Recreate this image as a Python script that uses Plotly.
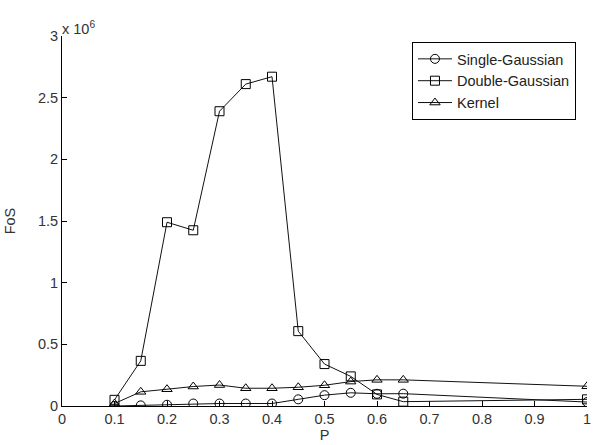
import plotly.graph_objects as go

# Probability P and figure of sensitivity (FoS, in units of 10^6)
p_values = [0.1, 0.15, 0.2, 0.25, 0.3, 0.35, 0.4, 0.45, 0.5, 0.55, 0.6, 0.65, 1.0]
single_gaussian = [0.0, 0.005, 0.01, 0.02, 0.02, 0.02, 0.02, 0.054, 0.088, 0.107, 0.099, 0.10, 0.032]
double_gaussian = [0.05, 0.366, 1.49, 1.425, 2.39, 2.61, 2.67, 0.607, 0.34, 0.24, 0.094, 0.035, 0.054]
kernel = [0.02, 0.115, 0.136, 0.158, 0.17, 0.144, 0.144, 0.152, 0.168, 0.198, 0.212, 0.212, 0.16]

x_ticks = [0, 0.1, 0.2, 0.3, 0.4, 0.5, 0.6, 0.7, 0.8, 0.9, 1]
x_tick_text = ["0", "0.1", "0.2", "0.3", "0.4", "0.5", "0.6", "0.7", "0.8", "0.9", "1"]
y_ticks = [0, 0.5, 1, 1.5, 2, 2.5, 3]
y_tick_text = ["0", "0.5", "1", "1.5", "2", "2.5", "3"]

FONT = "Liberation Sans, Arial, sans-serif"
TEXT = "#333333"

series = [
    ("Single-Gaussian", single_gaussian, "circle-open"),
    ("Double-Gaussian", double_gaussian, "square-open"),
    ("Kernel", kernel, "triangle-up-open"),
]

fig = go.Figure()
for name, values, symbol in series:
    fig.add_trace(go.Scatter(
        x=p_values, y=values, name=name, mode="lines+markers",
        line=dict(color="#111111", width=1),
        marker=dict(symbol=symbol, size=9, color="black", line=dict(width=1, color="black")),
    ))

fig.update_layout(
    width=596, height=445,
    margin=dict(l=62, r=5, t=36, b=35),
    paper_bgcolor="white", plot_bgcolor="white",
    font=dict(family=FONT, size=14.5, color="black"),
    showlegend=True,
    legend=dict(
        x=0.979, y=0.984, xanchor="right", yanchor="top",
        bordercolor="black", borderwidth=1, bgcolor="white",
        font=dict(family=FONT, size=14.5, color="#222222"),
        tracegroupgap=0, itemwidth=34,
    ),
    xaxis=dict(
        range=[0, 1], tickvals=x_ticks, ticktext=x_tick_text,
        ticks="inside", ticklen=5, tickcolor="black",
        showline=True, linecolor="black", linewidth=1, mirror=False,
        showgrid=False, zeroline=False,
        tickfont=dict(family=FONT, size=14.5, color=TEXT),
        title=dict(text="P", standoff=2, font=dict(family=FONT, size=14.5, color=TEXT)),
    ),
    yaxis=dict(
        range=[0, 3], tickvals=y_ticks, ticktext=y_tick_text,
        ticks="inside", ticklen=5, tickcolor="black",
        showline=True, linecolor="black", linewidth=1, mirror=False,
        showgrid=False, zeroline=False,
        tickfont=dict(family=FONT, size=14.5, color=TEXT),
        title=dict(text="FoS", standoff=18, font=dict(family=FONT, size=14.5, color=TEXT)),
    ),
    annotations=[dict(
        text="x 10<sup>6</sup>", xref="paper", yref="paper", x=0.0, y=1.0,
        xanchor="left", yanchor="bottom", showarrow=False, xshift=-2, yshift=-3,
        font=dict(family=FONT, size=14.5, color=TEXT),
    )],
)

fig.write_html("out.html")
